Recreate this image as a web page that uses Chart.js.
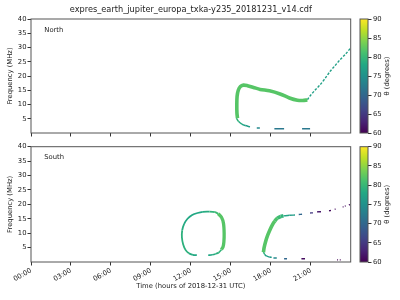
<!DOCTYPE html>
<html>
<head>
<meta charset="utf-8">
<script src="https://cdn.jsdelivr.net/npm/chart.js@4.4.0/dist/chart.umd.min.js"></script>
<style>
html, body { margin: 0; padding: 0; background: #fff; }
#wrap { position: relative; width: 400px; height: 300px; }
canvas { position: absolute; }
#north { left: 0; top: 0; }
#south { left: 0; top: 140px; }
#cbNorth { left: 355px; top: 0; }
#cbSouth { left: 355px; top: 140px; }
</style>
</head>
<body>
<div id="wrap">
  <canvas id="north" width="355" height="140"></canvas>
  <canvas id="south" width="355" height="160"></canvas>
  <canvas id="cbNorth" width="45" height="140"></canvas>
  <canvas id="cbSouth" width="45" height="160"></canvas>
</div>
<script>
// ticks
const hourTicks = [0, 3, 6, 9, 12, 15, 18, 21];
const hourLabels = ['00:00', '03:00', '06:00', '09:00', '12:00', '15:00', '18:00', '21:00'];
const freqTicks = [5, 10, 15, 20, 25, 30, 35, 40];
const thetaTicks = [60, 65, 70, 75, 80, 85, 90];

// North hemisphere (hours, MHz, theta degrees)
const nBandHours = [15.50, 15.46, 15.45, 15.47, 15.56, 15.72, 15.95, 16.25, 16.70, 17.20, 17.90, 18.70, 19.40, 20.00, 20.40, 20.75];
const nBandFreq  = [5.2, 7.0, 10.0, 12.8, 15.0, 16.3, 16.8, 16.6, 16.0, 15.3, 14.8, 13.7, 12.3, 11.5, 11.4, 11.6];
const nBandTheta = [82, 82, 82, 82, 82, 82, 82, 82, 82, 82, 82, 82, 82, 82, 82, 82];

const nTailHours = [15.42, 15.57, 15.83, 16.08, 16.44];
const nTailFreq  = [5.2, 4.1, 3.1, 2.6, 2.2];
const nTailTheta = [80, 79, 78, 77, 76];

const nLowHours = [16.95, 17.18, null, 18.27, 19.00, null, 20.35, 20.95];
const nLowFreq  = [1.75, 1.75, null, 1.45, 1.45, null, 1.45, 1.45];
const nLowTheta = [74, 74, null, 72, 72, null, 72, 72];

const nRiseHours = [20.75, 20.95, 21.30, 21.70, 22.10, 22.45, 22.80, 23.20, 23.60, 23.97];
const nRiseFreq  = [11.7, 13.0, 14.9, 16.9, 19.3, 21.6, 23.5, 25.7, 27.6, 29.7];
const nRiseTheta = [77, 77, 77, 77, 77, 77, 77, 77, 77, 77];

// South hemisphere
const sLoopHours = [12.45, 12.15, 11.85, 11.60, 11.42, 11.33, 11.35, 11.50, 11.75, 12.10, 12.50, 12.90, 13.40, 13.80, 14.05];
const sLoopFreq  = [2.35, 2.45, 3.0, 4.2, 6.2, 8.5, 11.0, 13.2, 15.0, 16.3, 17.0, 17.4, 17.45, 17.3, 16.8];
const sLoopTheta = [78, 78, 79, 79, 79, 79, 79, 78, 78, 78, 78, 78, 79, 80, 81];

const sSideHours = [14.05, 14.30, 14.45, 14.50, 14.48, 14.42, 14.30];
const sSideFreq  = [16.8, 15.5, 13.4, 10.0, 7.0, 5.3, 4.3];
const sSideTheta = [82, 82, 82, 82, 82, 82, 82];

const sBotHours = [14.30, 14.10, 13.85, 13.60, 13.30];
const sBotFreq  = [4.3, 3.3, 2.8, 2.5, 2.35];
const sBotTheta = [80, 79, 79, 78, 78];

const sBandHours = [17.45, 17.50, 17.62, 17.77, 17.95, 18.12, 18.30, 18.50, 18.75, 18.95];
const sBandFreq  = [3.4, 5.0, 7.2, 9.3, 11.3, 12.9, 14.2, 15.2, 15.8, 16.0];
const sBandTheta = [82, 82, 82, 82, 82, 82, 82, 81, 80, 79];

const sUpHours = [18.95, 19.40, 19.82, null, 20.10, 20.35, null, 20.95, 21.17, null, 21.47, 21.77, null, 22.37, 22.52, null, 22.80, 22.87, null, 23.40, 23.46, null, 23.56, 23.62, null, 23.86, 23.94];
const sUpFreq  = [16.0, 16.2, 16.3, null, 16.5, 16.55, null, 17.0, 17.05, null, 17.4, 17.45, null, 17.8, 17.85, null, 18.3, 18.35, null, 19.1, 19.15, null, 19.4, 19.45, null, 19.8, 19.9];
const sUpTheta = [78, 77, 76, null, 70, 70, null, 65, 65, null, 62, 62, null, 61, 61, null, 61, 61, null, 61, 61, null, 61, 61, null, 61, 61];

const sLowHours = [17.45, 17.55, 17.70, 17.90, 18.07, null, 18.20, 18.45, null, 19.00, 19.22, null, 20.30, 20.57, null, 22.98, 23.05, null, 23.18, 23.25];
const sLowFreq  = [3.4, 2.6, 2.0, 1.75, 1.6, null, 1.4, 1.4, null, 1.15, 1.15, null, 1.15, 1.15, null, 0.75, 0.75, null, 0.75, 0.75];
const sLowTheta = [79, 78, 77, 76, 76, null, 74, 74, null, 70, 70, null, 61, 61, null, 60, 60, null, 60, 60];

const VIR = ['#440154', '#482475', '#414487', '#355f8d', '#2a788e', '#21918c', '#22a884', '#44bf70', '#7ad151', '#bddf26', '#fde725'];
function hex(c) { return [1, 3, 5].map(i => parseInt(c.substr(i, 2), 16)); }
function viridis(t) {
    const u = Math.min(1, Math.max(0, (t - 60) / 30)) * 10;
    const i = Math.min(9, Math.floor(u));
    const f = u - i;
    const a = hex(VIR[i]), b = hex(VIR[i + 1]);
    return 'rgb(' + a.map((v, k) => Math.round(v + (b[k] - v) * f)).join(',') + ')';
}

Chart.defaults.font.family = 'DejaVu Sans';
const TXT = '#222';
const font7 = {family: 'DejaVu Sans', size: 6.8};

function series(hours, freq, theta, width, dash) {
    return {
        data: hours.map((h, i) => ({x: h, y: freq[i]})),
        showLine: true,
        pointRadius: 0,
        borderWidth: width,
        borderDash: dash || [],
        tension: 0.3,
        spanGaps: false,
        borderColor: viridis(theta[0]),
        segment: {
            borderColor: s => viridis((theta[s.p0DataIndex] + theta[s.p1DataIndex]) / 2)
        }
    };
}

// axes frame (all 4 sides)
const framePlugin = {
    id: 'frame',
    afterDraw(chart) {
        const a = chart.chartArea;
        const ctx = chart.ctx;
        ctx.save();
        ctx.strokeStyle = '#555';
        ctx.lineWidth = 1;
        ctx.strokeRect(a.left, a.top, a.right - a.left, a.bottom - a.top);
        ctx.restore();
    }
};

const panelTextPlugin = {
    id: 'panelText',
    afterDraw(chart, args, opts) {
        if (!opts.text) return;
        const a = chart.chartArea;
        const ctx = chart.ctx;
        ctx.save();
        ctx.font = '6.8px "DejaVu Sans"';
        ctx.fillStyle = TXT;
        ctx.textAlign = 'left';
        ctx.textBaseline = 'middle';
        ctx.fillText(opts.text, a.left + 13.3, a.top + 11);
        ctx.restore();
    }
};

function panel(id, cfg) {
    return new Chart(document.getElementById(id), {
        type: 'scatter',
        data: {datasets: cfg.datasets},
        options: {
            responsive: false,
            animation: false,
            events: [],
            layout: {padding: {left: 0, right: 4.3, top: cfg.padTop, bottom: cfg.padBottom}},
            plugins: {
                legend: {display: false},
                tooltip: {enabled: false},
                title: cfg.title || {display: false},
                panelText: {text: cfg.name}
            },
            scales: {
                x: {
                    type: 'linear', min: 0, max: 24,
                    afterBuildTicks: s => { s.ticks = hourTicks.map(v => ({value: v})); },
                    ticks: {
                        display: cfg.xLabels, autoSkip: false, maxRotation: 30, minRotation: 30,
                        font: font7, color: TXT, padding: 1,
                        callback: (v, i) => hourLabels[i]
                    },
                    grid: {drawOnChartArea: false, drawTicks: true, tickLength: 3.5, color: '#333'},
                    border: {display: false},
                    title: {
                        display: cfg.xLabels, text: 'Time (hours of 2018-12-31 UTC)',
                        font: font7, color: TXT, padding: {top: 0, bottom: 9.4}
                    },
                    afterFit: s => { s.height = cfg.xHeight; }
                },
                y: {
                    min: 0, max: 40,
                    afterBuildTicks: s => { s.ticks = freqTicks.map(v => ({value: v})); },
                    ticks: {font: font7, color: TXT, padding: 1, autoSkip: false, callback: v => String(v)},
                    grid: {drawOnChartArea: false, drawTicks: true, tickLength: 3.5, color: '#333'},
                    border: {display: false},
                    title: {display: true, text: 'Frequency (MHz)', font: font7, color: TXT, padding: {top: 6, bottom: 0}},
                    afterFit: s => { s.width = 31; }
                }
            }
        },
        plugins: [framePlugin, panelTextPlugin]
    });
}

const cbLabelPlugin = {
    id: 'cbLabel',
    afterDraw(chart) {
        const a = chart.chartArea;
        const ctx = chart.ctx;
        ctx.save();
        ctx.translate(32.5, (a.top + a.bottom) / 2);
        ctx.rotate(-Math.PI / 2);
        ctx.font = '6.8px "DejaVu Sans"';
        ctx.fillStyle = TXT;
        ctx.textAlign = 'center';
        ctx.textBaseline = 'middle';
        ctx.fillText('θ (degrees)', 0, 0);
        ctx.restore();
    }
};

function colorbar(id, padTop, padBottom) {
    return new Chart(document.getElementById(id), {
        type: 'bar',
        data: {
            labels: [''],
            datasets: [{
                data: [[thetaTicks[0], thetaTicks[thetaTicks.length - 1]]],
                barPercentage: 1, categoryPercentage: 1, borderWidth: 0, borderSkipped: false,
                backgroundColor: c => {
                    const a = c.chart.chartArea;
                    if (!a) return VIR[5];
                    const g = c.chart.ctx.createLinearGradient(0, a.bottom, 0, a.top);
                    VIR.forEach((col, i) => g.addColorStop(i / 10, col));
                    return g;
                }
            }]
        },
        options: {
            responsive: false,
            animation: false,
            events: [],
            layout: {padding: {left: 5, right: 0, top: padTop, bottom: padBottom}},
            plugins: {legend: {display: false}, tooltip: {enabled: false}},
            scales: {
                x: {display: false},
                y: {
                    position: 'right', min: 60, max: 90,
                    afterBuildTicks: s => { s.ticks = thetaTicks.map(v => ({value: v})); },
                    ticks: {font: font7, color: TXT, padding: 1.5, callback: v => String(v)},
                    grid: {drawOnChartArea: false, drawTicks: true, tickLength: 3.5, color: '#333'},
                    border: {display: false},
                    afterFit: s => { s.width = 32; }
                }
            }
        },
        plugins: [framePlugin, cbLabelPlugin]
    });
}

panel('north', {
    name: 'North',
    padTop: 0, padBottom: 3.5, xHeight: 3.5, xLabels: false,
    title: {
        display: true, fullSize: false,
        text: 'expres_earth_jupiter_europa_txka-y235_20181231_v14.cdf',
        font: {family: 'DejaVu Sans', size: 8.2, weight: 'normal'}, color: TXT,
        padding: {top: 5, bottom: 4.16}
    },
    datasets: [
        series(nBandHours, nBandFreq, nBandTheta, 3.6),
        series(nTailHours, nTailFreq, nTailTheta, 1.5),
        series(nLowHours, nLowFreq, nLowTheta, 1.5),
        series(nRiseHours, nRiseFreq, nRiseTheta, 1.4, [2.5, 1.5])
    ]
});

panel('south', {
    name: 'South',
    padTop: 6.7, padBottom: 0, xHeight: 38, xLabels: true,
    datasets: [
        series(sLoopHours, sLoopFreq, sLoopTheta, 1.8),
        series(sSideHours, sSideFreq, sSideTheta, 3.3),
        series(sBotHours, sBotFreq, sBotTheta, 1.6),
        series(sBandHours, sBandFreq, sBandTheta, 3.6),
        series(sUpHours, sUpFreq, sUpTheta, 1.4),
        series(sLowHours, sLowFreq, sLowTheta, 1.4)
    ]
});

colorbar('cbNorth', 19, 7);
colorbar('cbSouth', 6.7, 38);
</script>
</body>
</html>
